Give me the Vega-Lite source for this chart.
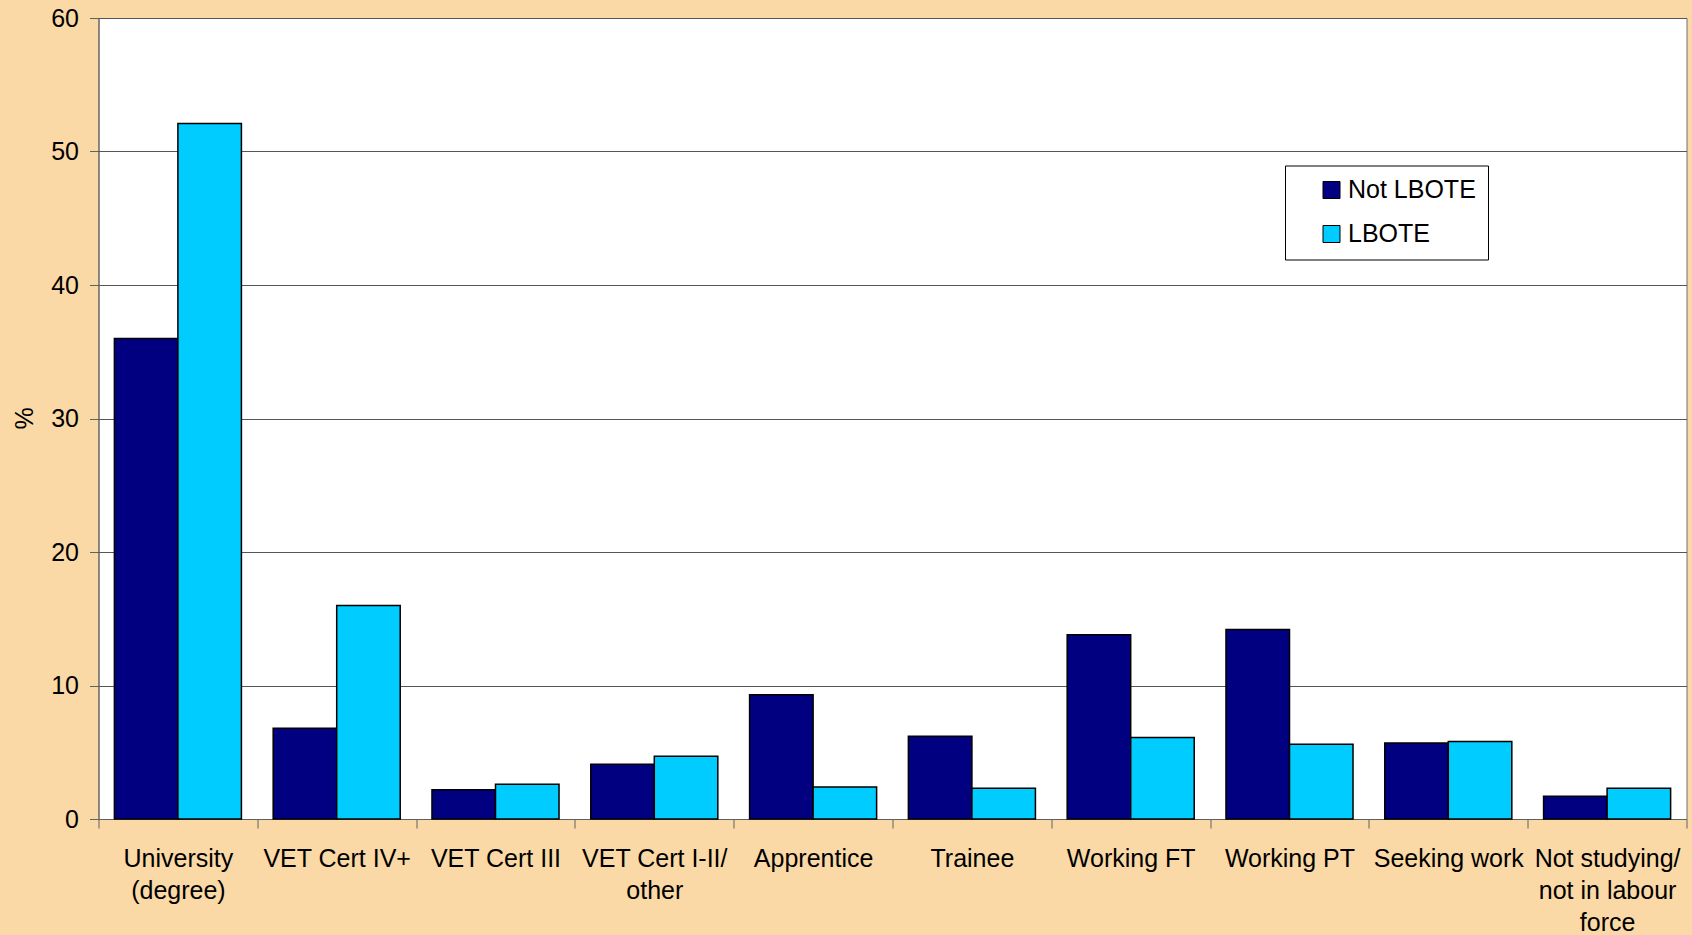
{
  "$schema": "https://vega.github.io/schema/vega-lite/v6.json",
  "width": 1588,
  "height": 801,
  "autosize": {"type": "none"},
  "padding": {"left": 98.5, "top": 18, "right": 5.5, "bottom": 116},
  "background": "#FBD9A6",
  "config": {
    "view": {"fill": "white", "stroke": "#707070", "strokeWidth": 1},
    "font": "Liberation Sans"
  },
  "data": {
    "values": [
      {"category": "University|(degree)", "group": "Not LBOTE", "value": 36.0},
      {"category": "University|(degree)", "group": "LBOTE", "value": 52.1},
      {"category": "VET Cert IV+", "group": "Not LBOTE", "value": 6.8},
      {"category": "VET Cert IV+", "group": "LBOTE", "value": 16.0},
      {"category": "VET Cert III", "group": "Not LBOTE", "value": 2.2},
      {"category": "VET Cert III", "group": "LBOTE", "value": 2.6},
      {"category": "VET Cert I-II/|other", "group": "Not LBOTE", "value": 4.1},
      {"category": "VET Cert I-II/|other", "group": "LBOTE", "value": 4.7},
      {"category": "Apprentice", "group": "Not LBOTE", "value": 9.3},
      {"category": "Apprentice", "group": "LBOTE", "value": 2.4},
      {"category": "Trainee", "group": "Not LBOTE", "value": 6.2},
      {"category": "Trainee", "group": "LBOTE", "value": 2.3},
      {"category": "Working FT", "group": "Not LBOTE", "value": 13.8},
      {"category": "Working FT", "group": "LBOTE", "value": 6.1},
      {"category": "Working PT", "group": "Not LBOTE", "value": 14.2},
      {"category": "Working PT", "group": "LBOTE", "value": 5.6},
      {"category": "Seeking work", "group": "Not LBOTE", "value": 5.7},
      {"category": "Seeking work", "group": "LBOTE", "value": 5.8},
      {"category": "Not studying/|not in labour|force", "group": "Not LBOTE", "value": 1.7},
      {"category": "Not studying/|not in labour|force", "group": "LBOTE", "value": 2.3}
    ]
  },
  "mark": {"type": "bar", "stroke": "black", "strokeWidth": 1.5},
  "encoding": {
    "x": {
      "field": "category",
      "type": "nominal",
      "sort": null,
      "scale": {"paddingInner": 0, "paddingOuter": 0},
      "axis": {
        "title": null,
        "labelAngle": 0,
        "labelExpr": "split(datum.label, '|')",
        "tickBand": "extent",
        "tickSize": 9,
        "labelPadding": 18,
        "labelFontSize": 25,
        "labelColor": "black",
        "labelLineHeight": 32,
        "labelBaseline": "top",
        "labelLimit": 400,
        "labelOverlap": false,
        "domainColor": "#606060",
        "tickColor": "#606060"
      }
    },
    "xOffset": {
      "field": "group",
      "type": "nominal",
      "sort": ["Not LBOTE", "LBOTE"],
      "scale": {"paddingInner": 0, "paddingOuter": 0.25}
    },
    "y": {
      "field": "value",
      "type": "quantitative",
      "scale": {"domain": [0, 60]},
      "axis": {
        "title": "%",
        "values": [0, 10, 20, 30, 40, 50, 60],
        "grid": true,
        "gridColor": "#555555",
        "tickSize": 9,
        "tickColor": "#606060",
        "domainColor": "#606060",
        "labelFontSize": 25,
        "labelColor": "black",
        "labelPadding": 11,
        "titleFontSize": 25,
        "titleFontWeight": "normal",
        "titleColor": "black",
        "titleX": -74,
        "titleY": 400,
        "titleAngle": 270,
        "titleBaseline": "middle",
        "titleAlign": "center"
      }
    },
    "color": {
      "field": "group",
      "type": "nominal",
      "scale": {"domain": ["Not LBOTE", "LBOTE"], "range": ["#000080", "#00CCFF"]},
      "legend": {
        "orient": "none",
        "legendX": 1186.5,
        "legendY": 147.5,
        "title": null,
        "fillColor": "white",
        "strokeColor": "black",
        "padding": 12,
        "symbolType": "square",
        "symbolSize": 289,
        "symbolStrokeColor": "black",
        "symbolStrokeWidth": 1,
        "symbolOffset": 22,
        "labelFontSize": 25,
        "labelColor": "black",
        "labelOffset": 4,
        "rowPadding": 18,
        "labelLimit": 400
      }
    }
  }
}
